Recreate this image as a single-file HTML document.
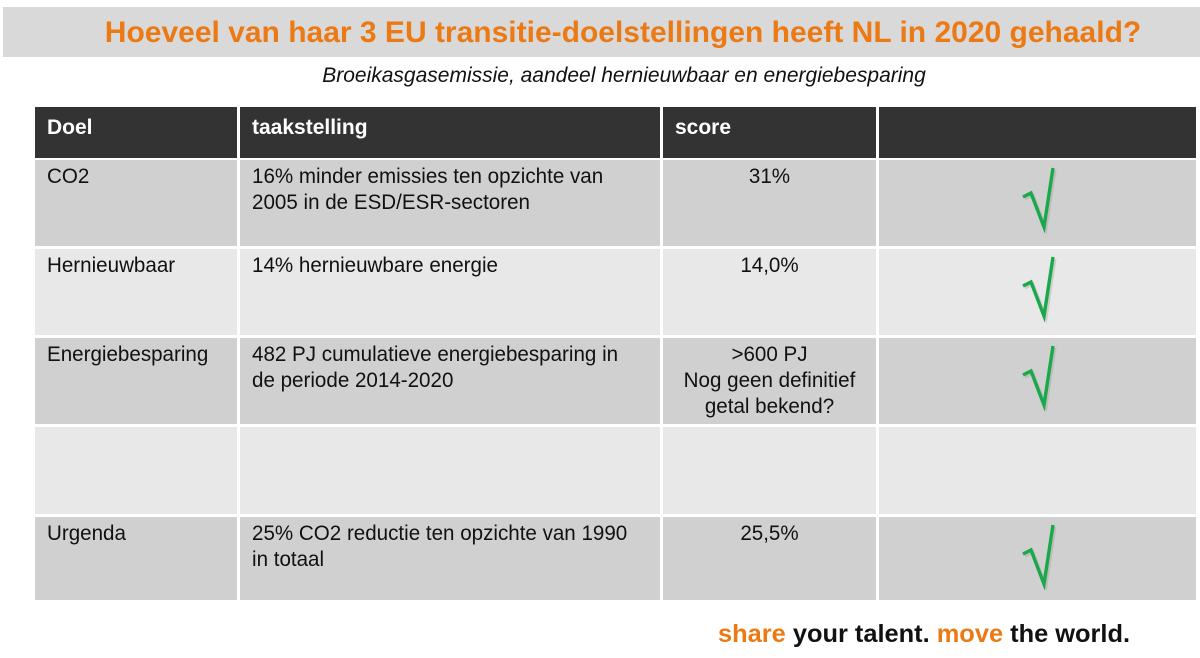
<!DOCTYPE html>
<html><head><meta charset="utf-8"><style>
body{margin:0;width:1200px;height:658px;background:#fff;position:relative;overflow:hidden;font-family:"Liberation Sans",sans-serif}
.a{position:absolute}
.cell{position:absolute;box-sizing:border-box}
.t{position:absolute;font-size:21px;line-height:26px;color:#111;transform:scaleX(0.98);transform-origin:0 0;white-space:nowrap}
.c{transform-origin:50% 0;text-align:center}
.h{color:#fff;font-weight:bold;font-size:21px;transform:scaleX(1)}
</style></head><body>
<div class="a" style="left:3px;top:7px;width:1197px;height:50px;background:#d9d9d9"></div>
<div class="a" style="left:3px;top:7px;width:1240px;height:50px;line-height:52px;text-align:center;color:#ec7a14;font-weight:bold;font-size:30px;white-space:nowrap">Hoeveel van haar 3 EU transitie-doelstellingen heeft NL in 2020 gehaald?</div>
<div class="a" style="left:0;top:64px;width:1248px;text-align:center;font-style:italic;font-size:21px;color:#111;white-space:nowrap">Broeikasgasemissie, aandeel hernieuwbaar en energiebesparing</div>
<div id="tbl"></div>
<div class="a" style="left:718px;top:620px;font-size:25.4px;font-weight:bold;color:#111;white-space:nowrap"><span style="color:#ec7a14">share</span> your talent. <span style="color:#ec7a14">move</span> the world.</div>
<script>
const colX=[35,240,663,879,1196];
const rowY=[107,160,249,338,427,517,603];
const headers=["Doel","taakstelling","score",""];
const doel=["CO2","Hernieuwbaar","Energiebesparing","","Urgenda"];
const taak=[["16% minder emissies ten opzichte van","2005 in de ESD/ESR-sectoren"],["14% hernieuwbare energie"],["482 PJ cumulatieve energiebesparing in","de periode 2014-2020"],[],["25% CO2 reductie ten opzichte van 1990","in totaal"]];
const score=[["31%"],["14,0%"],[">600 PJ","Nog geen definitief","getal bekend?"],[],["25,5%"]];
const check=[true,true,true,false,true];
const fills=["#d0d0d0","#e8e8e8","#d0d0d0","#e8e8e8","#d0d0d0"];
const tbl=document.getElementById('tbl');
function cell(x0,x1,y0,y1,bg){const d=document.createElement('div');d.className='cell';d.style.cssText=`left:${x0}px;top:${y0}px;width:${x1-x0-3}px;height:${y1-y0-3}px;background:${bg}`;tbl.appendChild(d);return d;}
function txt(parent,lines,cls,x,y,w){const t=document.createElement('div');t.className='t '+cls;t.style.left=x+'px';t.style.top=y+'px';if(w)t.style.width=w+'px';t.innerHTML=lines.join('<br>');parent.appendChild(t);return t;}
for(let c=0;c<4;c++){const d=cell(colX[c],colX[c+1]+(c==3?3:0),rowY[0],rowY[1]+1,'#333');


txt(d,[headers[c]],'h',12,8);}
for(let r=0;r<5;r++){const y0=rowY[r+1],y1=rowY[r+2];
for(let c=0;c<4;c++){const d=cell(colX[c],colX[c+1]+(c==3?3:0),y0,y1,fills[r]);


if(c==0)txt(d,[doel[r]],'',12,4);
if(c==1)txt(d,taak[r],'',12,4);
if(c==2){const w=colX[3]-colX[2]-3;txt(d,score[r],'c',0,4,w);}
if(c==3&&check[r]){const s=document.createElementNS('http://www.w3.org/2000/svg','svg');


s.setAttribute('width','300');s.setAttribute('height','80');s.style.cssText='position:absolute;left:0;top:0';
s.innerHTML='<polyline points="144,37 152,33 165,67 174,8" fill="none" stroke="#999" stroke-width="3" opacity="0.35" transform="translate(2,2)"/><polyline points="144,37 152,33 165,67 174,8" fill="none" stroke="#19a84a" stroke-width="3.4"/>';
d.appendChild(s);}}}
</script>
</body></html>
